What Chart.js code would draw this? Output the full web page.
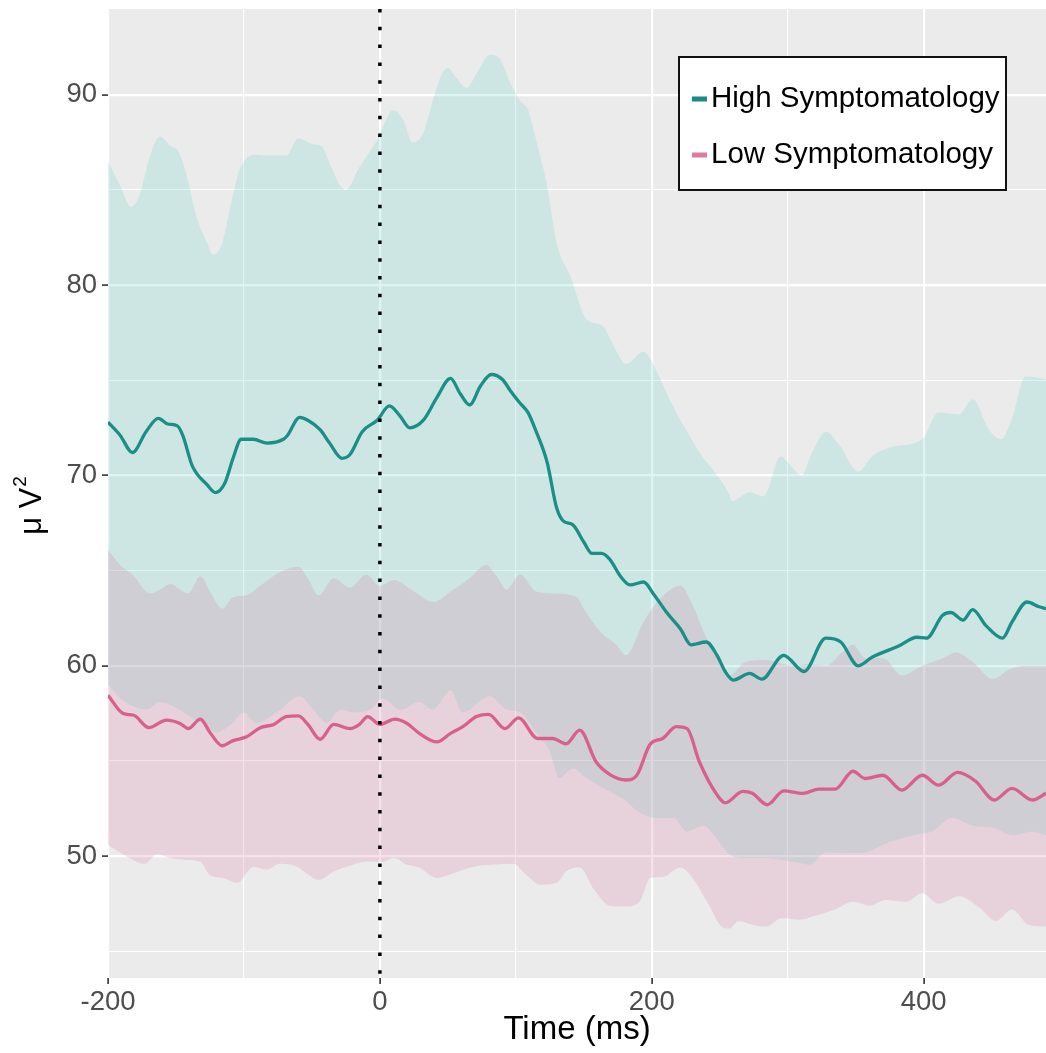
<!DOCTYPE html>
<html><head><meta charset="utf-8">
<script src="https://cdn.jsdelivr.net/npm/chart.js@4.4.0/dist/chart.umd.min.js"></script>
<style>html,body{margin:0;padding:0;background:#fff;overflow:hidden}#wrap{width:1046px;height:1053px;position:relative}</style>
</head><body><div id="wrap"><canvas id="c" width="1046" height="1053"></canvas></div>
<script>
// ---- data (ms, µV²) ----
const xTickValues = [-200,-100,0,100,200,300,400];
const yTickValues = [45,50,55,60,65,70,75,80,85,90];
const seriesNames = ['High Symptomatology','Low Symptomatology'];

const hiMeanT = [-200,-191,-182,-172,-163,-156,-149,-145,-138,-127,-121,-114,-108,-102,-93,-83,-71,-68,-59,-53,-44,-37,-28,-22,-13,-2,7,15,22,32,42,52,59,66,74,82,90,96,103,109,115,123,130,135,142,150,156,163,169,177,184,194,201,211,221,229,240,248,254,260,272,281,297,312,328,339,352,362,382,395,402,414,420,429,436,446,458,465,476,485,490];
const hiMeanV = [72.8,72.1,71.2,72.3,73.0,72.7,72.6,72.1,70.5,69.5,69.1,69.6,70.9,71.9,71.9,71.7,71.9,72.1,73.05,72.9,72.4,71.7,70.9,71.1,72.3,72.9,73.65,73.1,72.5,72.9,74.1,75.1,74.3,73.7,74.7,75.3,75.05,74.45,73.8,73.3,72.3,70.7,68.3,67.6,67.4,66.5,65.9,65.9,65.6,64.7,64.25,64.4,63.8,62.8,61.95,61.1,61.25,60.55,59.7,59.25,59.6,59.3,60.55,59.7,61.45,61.25,60.0,60.45,61.05,61.5,61.45,62.65,62.8,62.4,62.95,62.1,61.45,62.3,63.35,63.1,63.0];

const hiUpT = [-200,-191,-183,-177,-169,-162,-154,-148,-142,-135,-127,-123,-116,-110,-103,-91,-83,-69,-60,-49,-43,-37,-29,-25,-15,-2,10,17,24,32,39,45,50,56,64,71,81,88,96,103,109,115,123,130,140,152,164,172,181,194,204,213,226,238,245,257,259,272,282,295,300,310,318,328,338,352,362,377,399,411,426,436,448,457,465,475,490];
const hiUpV = [86.5,85.2,84.1,84.7,86.8,87.8,87.3,87.0,85.7,83.6,82.2,81.6,82.2,84.1,86.1,86.85,86.8,86.8,87.7,87.4,87.3,86.4,85.2,85.0,86.2,87.6,89.2,88.7,87.5,88.0,89.7,91.0,91.4,90.9,90.35,91.1,92.1,91.9,90.6,89.7,89.2,87.6,85.2,82.2,80.5,78.2,77.85,76.8,75.85,76.5,75.4,74.0,72.3,70.9,70.3,69.0,68.65,69.1,68.9,71.0,70.7,70.0,71.2,72.3,71.6,70.2,71.0,71.5,71.9,73.3,73.2,74.0,72.4,71.9,73.0,75.2,75.05];

const hiLoT = [-200,-191,-182,-172,-162,-150,-137,-127,-120,-110,-100,-91,-76,-59,-49,-39,-29,-20,-7,2,15,29,39,52,61,81,93,103,115,125,132,142,152,164,179,191,204,216,226,238,248,257,269,286,304,316,328,352,377,392,406,421,436,451,465,480,490];
const hiLoV = [59.0,58.3,57.9,57.7,58.1,57.8,57.2,56.8,56.5,56.9,57.55,57.0,57.55,58.4,57.7,57.0,57.7,57.55,57.7,58.3,57.7,58.1,57.7,58.7,57.55,58.4,57.7,57.55,56.5,55.5,54.1,54.6,54.1,53.6,53.0,52.3,52.0,52.0,51.3,51.6,50.9,50.1,49.9,49.9,49.7,49.55,50.2,50.15,50.8,51.1,51.3,52.0,51.6,51.5,51.1,51.3,51.1];

const loMeanT = [-200,-189,-181,-170,-157,-147,-141,-132,-125,-116,-108,-98,-88,-78,-69,-60,-53,-44,-34,-22,-15,-9,0,11,20,29,42,52,61,71,80,92,102,116,127,137,147,159,169,181,189,199,208,218,226,235,248,254,267,274,285,297,311,323,335,348,357,370,384,399,411,425,438,452,465,480,490];
const loMeanV = [58.45,57.5,57.4,56.75,57.15,56.97,56.7,57.2,56.5,55.8,56.07,56.27,56.75,56.92,57.33,57.37,56.92,56.14,56.92,56.7,56.92,57.33,56.92,57.2,56.97,56.45,56.0,56.45,56.8,57.33,57.45,56.7,57.26,56.18,56.18,55.9,56.62,54.96,54.3,54.0,54.25,55.9,56.18,56.8,56.7,54.96,53.22,52.8,53.4,53.3,52.7,53.43,53.3,53.52,53.52,54.46,54.08,54.25,53.47,54.25,53.73,54.4,53.95,52.95,53.56,52.95,53.3];

const loUpT = [-200,-191,-182,-169,-162,-154,-147,-141,-132,-125,-116,-108,-98,-88,-74,-60,-53,-45,-34,-22,-10,0,10,25,39,54,66,78,86,93,103,115,127,145,150,162,174,181,194,204,221,230,238,248,257,269,284,304,315,328,340,348,357,370,384,399,414,424,436,451,463,475,490];
const loUpV = [66.1,65.3,64.8,63.8,64.0,64.3,64.0,63.8,64.7,63.9,63.0,63.6,63.7,64.2,64.9,65.2,64.6,63.7,64.6,64.1,64.8,64.2,64.5,63.9,63.35,64.0,64.6,65.3,64.7,64.0,64.8,63.9,63.8,63.6,63.0,61.8,61.1,60.55,62.3,63.35,64.2,63.2,61.8,60.4,59.5,60.2,60.3,60.0,60.1,60.0,60.7,61.1,60.4,60.4,59.5,60.0,60.4,60.7,60.2,59.3,59.8,60.0,60.0];

const loLoT = [-200,-189,-173,-164,-154,-142,-132,-125,-115,-105,-93,-83,-74,-61,-54,-45,-34,-20,-10,2,10,20,29,42,54,69,83,98,108,118,130,137,147,157,169,181,191,199,208,221,230,243,250,257,264,274,284,296,308,321,335,348,360,372,387,399,411,426,441,453,465,477,490];
const loLoV = [50.6,50.1,49.6,50.1,49.9,49.8,49.7,49.0,48.85,48.6,49.45,49.3,49.6,49.45,49.1,48.75,49.2,49.55,49.7,49.7,49.9,49.55,49.4,48.85,49.1,49.45,49.55,49.6,49.0,48.5,48.6,49.2,49.4,48.3,47.4,47.35,47.6,48.85,48.9,49.4,48.85,47.3,46.4,46.2,46.6,46.4,46.3,46.75,46.66,46.9,47.2,47.6,47.4,47.7,47.6,48.05,47.5,47.9,47.3,46.6,47.2,46.4,46.3];

const xMin = -200, xMax = 490, yMin = 43.6, yMax = 94.5;
const markerT = [0, 0];
const markerV = [yMax, yMin];

// ---- styles ----
const FONT = "'Liberation Sans', Arial, sans-serif";
const tealLine = '#1a8f88', pinkLine = '#d9608b';
const tealFill = 'rgba(85,210,195,0.2)', pinkFill = 'rgba(215,110,160,0.2)';

const pts = (ts, vs) => ts.map((t, i) => ({x: t, y: vs[i]}));
const base = {pointRadius: 0, pointHoverRadius: 0, cubicInterpolationMode: 'monotone'};

const datasets = [
  Object.assign({}, base, {label: 'vline', data: pts(markerT, markerV), borderColor: '#000', borderWidth: 3.5, borderDash: [3.5, 14.3], borderCapStyle: 'butt', fill: false, order: 0, cubicInterpolationMode: 'default', tension: 0}),
  Object.assign({}, base, {label: seriesNames[0], data: pts(hiMeanT, hiMeanV), borderColor: tealLine, borderWidth: 3.3, fill: false, order: 1}),
  Object.assign({}, base, {label: seriesNames[1], data: pts(loMeanT, loMeanV), borderColor: pinkLine, borderWidth: 3.3, fill: false, order: 2}),
  Object.assign({}, base, {label: 'hiUp', data: pts(hiUpT, hiUpV), borderWidth: 0, borderColor: 'rgba(0,0,0,0)', backgroundColor: tealFill, fill: 5, order: 4}),
  Object.assign({}, base, {label: 'loUp', data: pts(loUpT, loUpV), borderWidth: 0, borderColor: 'rgba(0,0,0,0)', backgroundColor: pinkFill, fill: 6, order: 3}),
  Object.assign({}, base, {label: 'hiLo', data: pts(hiLoT, hiLoV), borderWidth: 0, borderColor: 'rgba(0,0,0,0)', fill: false, order: 5}),
  Object.assign({}, base, {label: 'loLo', data: pts(loLoT, loLoV), borderWidth: 0, borderColor: 'rgba(0,0,0,0)', fill: false, order: 6})
];

const bgPlugin = {
  id: 'bg',
  beforeDraw(chart) {
    const {ctx, chartArea: a} = chart;
    ctx.save();
    ctx.fillStyle = '#fff';
    ctx.fillRect(0, 0, chart.width, chart.height);
    ctx.fillStyle = '#ebebeb';
    ctx.fillRect(a.left, a.top, a.right - a.left, a.bottom - a.top);
    ctx.restore();
  }
};

const decoPlugin = {
  id: 'deco',
  afterDraw(chart) {
    const ctx = chart.ctx;
    ctx.save();
    // y axis title: µ V²
    ctx.translate(30, 506);
    ctx.rotate(-Math.PI / 2);
    ctx.fillStyle = '#000';
    ctx.textBaseline = 'middle';
    ctx.font = '31px ' + FONT;
    const main = 'μ V';
    const wMain = ctx.measureText(main).width;
    ctx.font = '19px ' + FONT;
    const wSup = ctx.measureText('2').width;
    const start = -(wMain + wSup) / 2;
    ctx.font = '31px ' + FONT;
    ctx.textAlign = 'left';
    ctx.fillText(main, start, 2);
    ctx.font = '19px ' + FONT;
    ctx.fillText('2', start + wMain + 1, -9);
    ctx.restore();

    // legend
    ctx.save();
    const L = 679, T = 57, R = 1006, B = 190;
    ctx.fillStyle = '#fff';
    ctx.fillRect(L, T, R - L, B - T);
    ctx.lineWidth = 2;
    ctx.strokeStyle = '#111';
    ctx.strokeRect(L, T, R - L, B - T);
    const items = [
      {label: seriesNames[0], color: '#1a8a86', y: 99},
      {label: seriesNames[1], color: '#e07a9f', y: 155}
    ];
    ctx.font = '29.5px ' + FONT;
    ctx.textBaseline = 'middle';
    ctx.textAlign = 'left';
    items.forEach(it => {
      ctx.fillStyle = it.color;
      ctx.fillRect(692, it.y - 2.5, 15, 5);
      ctx.fillStyle = '#000';
      ctx.fillText(it.label, 711, it.y);
    });
    ctx.restore();
  }
};

new Chart(document.getElementById('c'), {
  type: 'line',
  data: {datasets},
  plugins: [bgPlugin, decoPlugin],
  options: {
    responsive: false,
    animation: false,
    devicePixelRatio: 1,
    layout: {padding: {top: 9, right: 0, left: 0, bottom: 0}},
    plugins: {legend: {display: false}, tooltip: {enabled: false}},
    events: [],
    scales: {
      x: {
        type: 'linear', min: xMin, max: xMax,
        afterBuildTicks: s => { s.ticks = xTickValues.map(v => ({value: v})); },
        afterFit: s => { s.height = 75; s.paddingLeft = 0; s.paddingRight = 0; },
        border: {display: false},
        grid: {
          color: '#ffffff',
          lineWidth: c => (c.tick && c.tick.value % 200 === 0) ? 2.2 : 1.1,
          drawTicks: true, tickLength: 6, tickWidth: 1.6,
          tickColor: c => (c.tick && c.tick.value % 200 === 0) ? '#333333' : 'rgba(0,0,0,0)'
        },
        ticks: {
          autoSkip: false, maxRotation: 0, padding: 2, color: '#4d4d4d',
          font: {family: FONT, size: 27.5},
          callback: v => (v % 200 === 0 ? String(v) : '')
        },
        title: {display: true, text: 'Time (ms)', color: '#000', font: {family: FONT, size: 33}, padding: {top: 0, bottom: 3}}
      },
      y: {
        type: 'linear', min: yMin, max: yMax,
        afterBuildTicks: s => { s.ticks = yTickValues.map(v => ({value: v})); },
        afterFit: s => { s.width = 108; s.paddingTop = 0; s.paddingBottom = 0; },
        border: {display: false},
        grid: {
          color: '#ffffff',
          lineWidth: c => (c.tick && c.tick.value % 10 === 0) ? 2.2 : 1.1,
          drawTicks: true, tickLength: 6, tickWidth: 1.6,
          tickColor: c => (c.tick && c.tick.value % 10 === 0) ? '#333333' : 'rgba(0,0,0,0)'
        },
        ticks: {
          autoSkip: false, padding: 5, color: '#4d4d4d',
          font: {family: FONT, size: 27.5},
          callback: v => (v % 10 === 0 ? String(v) : '')
        }
      }
    }
  }
});
</script>
</body></html>
